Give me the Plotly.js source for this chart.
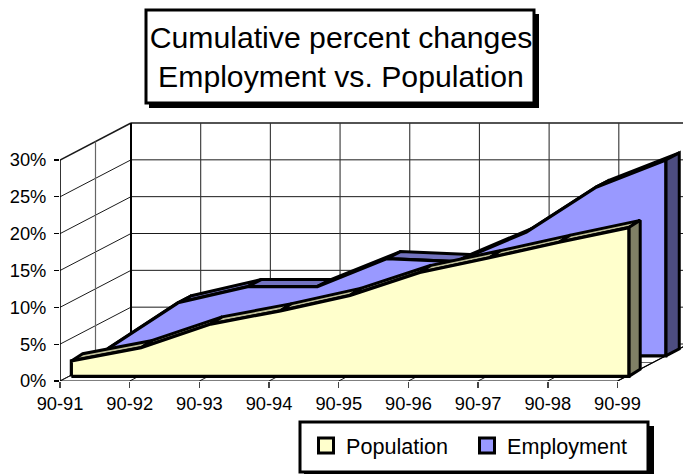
<!DOCTYPE html>
<html>
<head>
<meta charset="utf-8">
<script src="https://cdn.plot.ly/plotly-3.0.1.min.js"></script>
<style>html,body{margin:0;padding:0;background:#fff;overflow:hidden}</style>
</head>
<body>
<div id="chart" style="width:683px;height:474px"></div>
<script>
const categories = ["90-91","90-92","90-93","90-94","90-95","90-96","90-97","90-98","90-99"];
const population = [2.1, 3.9, 7.1, 8.9, 11.0, 14.1, 16.1, 18.2, 20.2];
const employment = [1.0, 7.2, 9.4, 9.4, 13.2, 12.8, 16.8, 22.9, 26.6];
const percentTicks = [0, 5, 10, 15, 20, 25, 30];

const W = 683, H = 474, L = 60, B = 381;
const xMax = 8.94, yMax = 381 / 221 * 30;
const depthX = 71 / (623 / xMax), depthY = 37 / 221 * 30;
const P = (i, v, d, dy) => [i + d * depthX, v + (dy === undefined ? d : dy) * depthY];
const px = x => (x - L) / (W - L);
const py = y => (B - y) / B;

const traces = [];
function poly(points, fill, width) {
  traces.push({
    type: "scatter", mode: "lines", x: points.map(p => p[0]), y: points.map(p => p[1]),
    fill: "toself", fillcolor: fill, line: {color: "#000", width: width, simplify: false},
    showlegend: false, hoverinfo: "skip", cliponaxis: false
  });
}
function line(a, b, width, color) {
  traces.push({
    type: "scatter", mode: "lines", x: [a[0], b[0]], y: [a[1], b[1]],
    line: {color: color || "#1a1a1a", width: width}, showlegend: false, hoverinfo: "skip", cliponaxis: false
  });
}
const n = categories.length - 1;

// walls and floor
percentTicks.forEach(v => {
  const w = v === 30 ? 1.5 : 1;
  line(P(0, v, 0), P(0, v, 1), w);
  line(P(0, v, 1), P(n, v, 1), w);
});
categories.forEach((c, i) => {
  line(P(i, 0, 1), P(i, 30, 1), i === 0 ? 2 : 1.1, i === 0 ? "#000" : "#333");
  line(P(i, 0, 0), P(i, 0, 1), 1);
});
line(P(0, 0, .5), P(0, 30, .5), 1.2, "#666");
line(P(0, 0, .5), P(n, 0, .5), 1, "#666");
line(P(0, 0, 0), P(0, 30, 0), 1.6, "#000");
line(P(0, 0, 0), P(n, 0, 0), 1.2, "#000");
line(P(n, 0, 0), P(n, 0, 1), 1.2, "#000");

function ribbon(values, d0, dy0, d1, front, top, side) {
  for (let i = 0; i < n; i++) {
    poly([P(i, values[i], d0, dy0), P(i + 1, values[i + 1], d0, dy0), P(i + 1, values[i + 1], d1), P(i, values[i], d1), P(i, values[i], d0, dy0)], top, 3);
  }
  poly([P(n, 0, d0, dy0), P(n, values[n], d0, dy0), P(n, values[n], d1), P(n, 0, d1), P(n, 0, d0, dy0)], side, 3);
  const f = values.map((v, i) => P(i, v, d0, dy0));
  poly([P(0, 0, d0, dy0), ...f, P(n, 0, d0, dy0), P(0, 0, d0, dy0)], front, 3.2);
}
ribbon(employment, 0.68, 0.68, 0.87, "#9999FF", "#7373BF", "#4D4D80");
ribbon(population, 0.16, 0.125, 0.32, "#FFFFCC", "#BFBF99", "#808066");

// legend entries
traces.push({type: "scatter", mode: "markers", name: "Population", x: [null], y: [null],
  marker: {symbol: "square", size: 15, color: "#FFFFCC", line: {color: "#000", width: 3}}, hoverinfo: "skip"});
traces.push({type: "scatter", mode: "markers", name: "Employment", x: [null], y: [null],
  marker: {symbol: "square", size: 15, color: "#9999FF", line: {color: "#000", width: 3}}, hoverinfo: "skip"});

function box(x0, y0, x1, y1, fill, lw) {
  return {type: "rect", xref: "paper", yref: "paper", x0: px(x0), x1: px(x1), y0: py(y0), y1: py(y1),
    fillcolor: fill, line: {color: "#000", width: lw}, layer: "above"};
}
const font = "Liberation Sans, Arial, sans-serif";
const layout = {
  width: W, height: H, paper_bgcolor: "#fff", plot_bgcolor: "#fff", showlegend: true, hovermode: false,
  margin: {l: L, r: 0, t: 0, b: H - B, pad: 0, autoexpand: false},
  font: {family: font, color: "#000"},
  title: {text: "Cumulative percent changes<br>Employment vs. Population",
    font: {family: font, size: 30.2, color: "#000"},
    x: px(341), xref: "paper", xanchor: "center", y: 1 - 48 / H, yref: "container", yanchor: "middle", automargin: false},
  xaxis: {range: [0, xMax], tickmode: "array", tickvals: categories.map((c, i) => i), ticktext: categories,
    showgrid: false, zeroline: false, showline: false, ticks: "outside", ticklen: 6, tickwidth: 1.4, tickcolor: "#444",
    tickfont: {family: font, size: 18.3, color: "#000"}},
  yaxis: {range: [0, yMax], tickmode: "array", tickvals: percentTicks, ticktext: percentTicks.map(v => v + "%"),
    showgrid: false, zeroline: false, showline: false, ticks: "outside", ticklen: 5, tickwidth: 1.2, tickcolor: "#000",
    ticklabelstandoff: 4, tickfont: {family: font, size: 18.3, color: "#000"}},
  legend: {orientation: "h", x: px(306), xanchor: "left", y: py(446), yanchor: "middle", yref: "paper",
    bgcolor: "rgba(0,0,0,0)", borderwidth: 0, entrywidth: 116, entrywidthmode: "pixels",
    font: {family: font, size: 21.6, color: "#000"}},
  shapes: [
    box(149, 14, 539, 108, "#000", 0),
    box(146, 10, 534, 103, "#fff", 3),
    box(304, 426, 654, 478, "#000", 0),
    box(300, 422, 648, 472, "#fff", 3)
  ]
};
Plotly.newPlot("chart", traces, layout, {displayModeBar: false, staticPlot: true});
</script>
</body>
</html>
